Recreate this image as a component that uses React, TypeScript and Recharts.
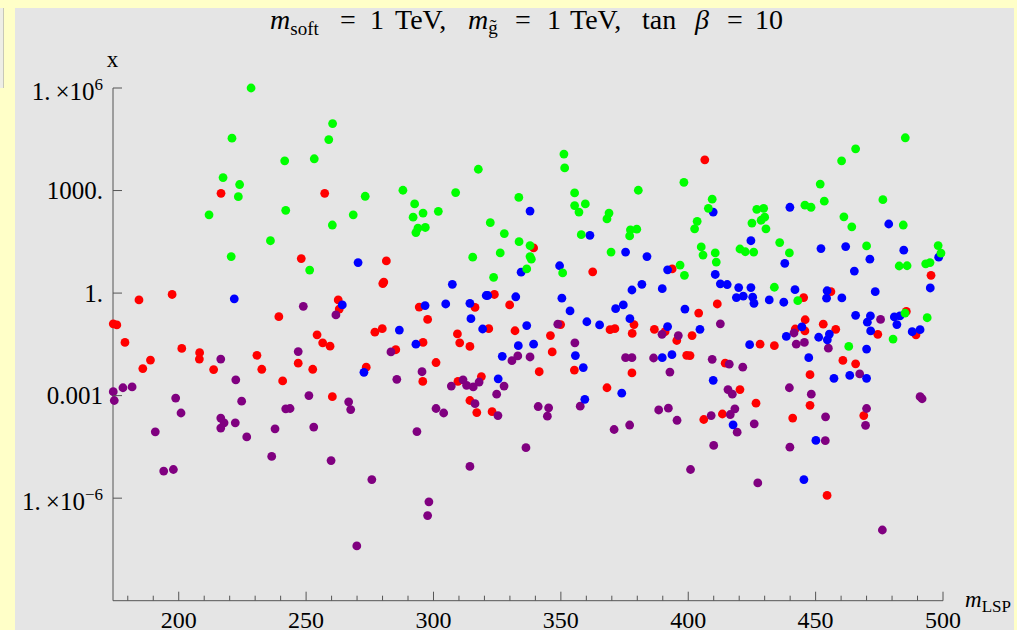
import React from 'react';
import { ScatterChart, Scatter, XAxis, YAxis } from 'recharts';

// [m_LSP, x] pairs
const greenPts: [number, number][] = [
  [228.4, 1.0e6], [220.9, 3.4e4], [260.4, 9.1e4], [258.9, 3.1e4], [241.6, 7.4e3], [253.2, 8.5e3], [217.4, 2.4e3],
  [223.9, 1.5e3], [223.4, 660], [211.9, 195], [242.0, 263], [260.3, 98], [236.0, 34], [220.6, 11.7], [251.4, 4.7],
  [273.2, 680], [288.0, 1020], [292.6, 407], [308.7, 870], [317.6, 4.2e3], [333.5, 630], [351.2, 1.17e4],
  [351.5, 4.6e3], [355.4, 850], [359.6, 407], [355.4, 363], [357.1, 234], [380.4, 1020], [268.5, 195], [292.0, 166],
  [295.9, 219], [301.9, 246], [293.9, 79], [293.1, 59], [296.8, 83], [322.3, 115], [327.8, 55], [333.6, 32],
  [337.9, 24.5], [326.2, 15], [315.4, 11.2], [337.9, 11.7], [338.4, 9.8], [336.6, 5.1], [323.6, 2.9], [350.7, 3.9],
  [368.9, 219], [368.1, 148], [358.0, 51], [377.3, 71], [379.8, 74], [377.0, 47], [369.7, 15.8],
  [398.3, 1740], [409.4, 560], [407.9, 302], [451.8, 1550], [460.2, 7.4e3], [465.7, 1.66e4], [485.2, 3.5e4],
  [453.4, 490], [476.4, 540], [445.8, 372], [448.2, 324], [426.9, 282], [429.6, 302], [403.5, 126], [402.5, 76],
  [425.0, 112], [428.6, 135], [430.0, 166], [430.5, 76], [461.1, 170], [464.2, 87], [484.4, 98], [435.9, 30],
  [439.7, 15], [470.0, 24], [498.1, 24.5], [499.2, 14.8], [405.1, 22.4], [405.8, 12.9], [410.6, 15], [411.0, 8.1],
  [420.3, 19.5], [422.4, 16.2], [425.7, 15.8], [482.8, 6.2], [485.9, 6.3], [493.2, 7.2], [494.9, 7.8], [396.8, 6.6],
  [398.5, 3.3], [433.8, 1.48], [443.0, 0.6], [485.1, 0.26], [493.8, 0.19], [480.4, 0.045], [463.0, 0.0275],
];

const redPts: [number, number][] = [
  [216.6, 830], [257.3, 830], [248.1, 10.2], [197.4, 0.91], [184.4, 0.63], [262.6, 0.63], [239.3, 0.204],
  [174.3, 0.126], [175.7, 0.117], [178.9, 0.036], [254.3, 0.06], [256.5, 0.035], [259.4, 0.028], [201.2, 0.024],
  [208.2, 0.018], [208.1, 0.0117], [230.7, 0.0151], [246.9, 0.0089], [188.9, 0.011], [185.9, 0.0062],
  [213.7, 0.0058], [232.6, 0.0059], [252.6, 0.0059], [240.8, 0.0027], [260.3, 0.00093],
  [281.5, 8.7], [280.5, 2.1], [280.1, 1.9], [323.9, 0.91], [339.3, 21], [362.5, 4.2], [263.0, 0.34], [294.4, 0.39],
  [316.3, 0.38], [329.9, 0.45], [297.7, 0.17], [378.7, 0.12], [378.0, 0.066], [277.0, 0.072], [279.9, 0.091],
  [321.7, 0.091], [332.0, 0.079], [349.9, 0.12], [369.3, 0.085], [371.2, 0.091], [386.7, 0.087], [390.9, 0.074],
  [345.9, 0.057], [295.9, 0.036], [309.4, 0.064], [310.3, 0.035], [314.3, 0.0275], [285.2, 0.022], [346.6, 0.019],
  [273.6, 0.0068], [301.0, 0.0093], [341.5, 0.005], [355.3, 0.0056], [377.9, 0.0046], [295.8, 0.0026],
  [309.6, 0.0026], [318.8, 0.0036], [368.1, 0.0017], [314.3, 0.00072], [317.0, 0.00032], [323.0, 0.00034],
  [406.5, 7.9e3], [495.3, 3.3], [393.7, 5.1], [445.3, 0.74], [456.0, 1.1], [485.6, 0.29], [474.4, 0.062],
  [489.4, 0.06], [411.4, 0.48], [404.1, 0.26], [395.5, 0.041], [401.5, 0.057], [445.9, 0.166], [442.0, 0.089],
  [445.8, 0.078], [453.0, 0.123], [457.9, 0.087], [428.2, 0.032], [433.8, 0.029], [399.4, 0.0151], [400.7, 0.0148],
  [414.5, 0.0089], [460.7, 0.0107], [465.7, 0.0085], [447.8, 0.0041], [420.3, 0.0015], [426.6, 0.0006],
  [447.8, 0.00052], [468.9, 0.00026], [406.1, 0.0002], [413.4, 0.00029], [441.0, 0.00022], [454.5, 1.2e-6],
];

const bluePts: [number, number][] = [
  [221.8, 0.68], [264.2, 0.45], [337.9, 250], [334.4, 4.1], [270.4, 7.8], [307.4, 1.8], [320.7, 0.85], [321.3, 0.85],
  [332.3, 0.78], [350.4, 0.71], [361.4, 49], [375.4, 15.8], [383.8, 11.7], [391.9, 4.8], [349.5, 6.3], [377.9, 1.23],
  [381.8, 1.8], [389.8, 1.35], [296.7, 0.43], [304.8, 0.48], [314.3, 0.5], [353.6, 0.3], [371.5, 0.35], [374.5, 0.45],
  [314.7, 0.178], [377.1, 0.178], [286.6, 0.083], [319.3, 0.089], [336.6, 0.112], [360.2, 0.145], [365.2, 0.117],
  [391.9, 0.105], [293.1, 0.032], [333.3, 0.029], [339.3, 0.032], [355.7, 0.0148], [327.0, 0.0141], [389.8, 0.0129],
  [272.7, 0.0048], [358.8, 0.0066], [325.4, 0.0031], [373.9, 0.00118], [359.4, 0.00078],
  [439.9, 324], [409.8, 234], [478.7, 105], [424.6, 34], [452.1, 20], [461.8, 23], [484.6, 18], [498.3, 11.2],
  [437.9, 7.4], [471.3, 9.8], [465.2, 4.4], [495.0, 1.41], [410.6, 3.5], [412.6, 1.86], [415.3, 1.78], [419.8, 1.45],
  [424.6, 1.45], [418.9, 0.74], [421.6, 0.81], [425.3, 0.76], [425.8, 0.5], [441.9, 1.26], [431.8, 0.63],
  [437.5, 0.54], [454.5, 1.17], [454.3, 0.71], [460.3, 0.72], [473.4, 1.1], [465.7, 0.224], [471.5, 0.214],
  [470.3, 0.141], [480.9, 0.2], [483.1, 0.214], [481.9, 0.12], [471.6, 0.078], [487.9, 0.074], [491.0, 0.085],
  [398.7, 0.34], [404.6, 0.087], [444.6, 0.102], [438.5, 0.054], [455.4, 0.063], [451.2, 0.051], [454.6, 0.043],
  [424.1, 0.031], [470.0, 0.023], [393.6, 0.0158], [447.3, 0.0129], [409.8, 0.0028], [457.2, 0.0032],
  [463.4, 0.0039], [470.0, 0.0032], [417.6, 0.00014], [450.1, 4.9e-5], [445.4, 3.5e-6],
];

const purplePts: [number, number][] = [
  [248.9, 0.41], [261.7, 0.23], [216.5, 0.0117], [246.9, 0.0195], [222.4, 0.0029], [178.1, 0.0017], [181.7, 0.0018],
  [174.3, 0.0013], [174.7, 0.00072], [198.8, 0.00085], [224.7, 0.00069], [251.1, 0.001], [200.9, 0.00031],
  [216.5, 0.00022], [242.0, 0.00041], [243.7, 0.00042], [217.8, 0.00016], [216.5, 0.000112], [222.2, 0.00016],
  [190.8, 8.7e-5], [226.7, 6.2e-5], [237.8, 0.000107], [253.0, 0.00012], [236.5, 1.66e-5], [259.8, 1.26e-5],
  [194.1, 6.2e-6], [197.9, 6.9e-6],
  [348.8, 0.123], [389.7, 0.062], [355.5, 0.035], [283.3, 0.019], [333.1, 0.0145], [330.8, 0.0105], [337.9, 0.0135],
  [375.4, 0.0129], [377.9, 0.0129], [386.4, 0.0126], [392.8, 0.0049], [285.6, 0.003], [295.5, 0.005], [307.0, 0.0019],
  [311.6, 0.0029], [313.0, 0.002], [315.6, 0.0018], [317.9, 0.0025], [327.7, 0.0019], [324.8, 0.0011],
  [266.7, 0.00066], [267.5, 0.00039], [316.3, 0.00058], [357.6, 0.00049], [301.0, 0.00042], [304.0, 0.00031],
  [325.3, 0.00026], [341.1, 0.00048], [345.2, 0.00044], [344.7, 0.00025], [388.4, 0.00038], [392.2, 0.00043],
  [293.5, 8.9e-5], [336.3, 3.0e-5], [314.3, 8.5e-6], [275.8, 3.5e-6], [298.2, 7.8e-7], [297.7, 3.1e-7],
  [269.9, 4.0e-8], [370.9, 0.000102], [377.0, 0.000138],
  [475.5, 0.17], [412.6, 0.126], [396.1, 0.057], [441.5, 0.068], [442.4, 0.032], [445.6, 0.036], [455.0, 0.0245],
  [409.4, 0.0115], [416.1, 0.0083], [421.4, 0.0068], [467.3, 0.0043], [415.6, 0.0015], [417.3, 0.0011],
  [439.7, 0.0017], [448.3, 0.0011], [491.0, 0.00093], [491.8, 0.00081], [470.0, 0.00042], [453.9, 0.00024],
  [409.0, 0.00026], [416.5, 0.00028], [418.3, 0.00041], [395.6, 0.00019], [425.9, 0.00015], [419.2, 8.5e-5],
  [410.0, 3.5e-5], [400.9, 6.9e-6], [469.6, 0.000135], [439.9, 3.1e-5], [453.8, 4.8e-5], [427.3, 2.8e-6],
  [476.2, 1.17e-7],
];

const xTicks = [180, 190, 200, 210, 220, 230, 240, 250, 260, 270, 280, 290, 300, 310, 320, 330, 340, 350,
  360, 370, 380, 390, 400, 410, 420, 430, 440, 450, 460, 470, 480, 490, 500];
const yTicks = [1e6, 1000, 1, 0.001, 1e-6];
const yTickBase = ['1.\u2009×10', '1000.', '1.', '0.001', '1.\u2009×10'];
const yTickSup = ['6', '', '', '', '−6'];

const FONT = '"Liberation Serif", "Times New Roman", serif';
const AXIS = '#555';

const toRows = (pts: [number, number][]) => pts.map(([x, y]) => ({ x, y }));

const dot = (color: string) => (p: any) => <circle cx={p.cx} cy={p.cy} r={4.4} fill={color} />;

const XTick = (props: any) => {
  const { x, y, payload } = props;
  const major = payload.value % 50 === 0;
  return (
    <g>
      <line x1={x} x2={x} y1={y} y2={y - (major ? 9 : 5)} stroke={AXIS} />
      {major && (
        <text x={x} y={y + 27} textAnchor="middle" fontFamily={FONT} fontSize={24} fill="#000">
          {payload.value}
        </text>
      )}
    </g>
  );
};

const YTick = (props: any) => {
  const { x, y, payload } = props;
  const i = yTicks.indexOf(payload.value);
  const sup = yTickSup[i];
  return (
    <g>
      <line x1={x} x2={x + 9} y1={y} y2={y} stroke={AXIS} />
      <text x={x - 10} y={y + (sup ? 12 : 8.5)} textAnchor="end" fontFamily={FONT} fontSize={25} fill="#000">
        {yTickBase[i]}
        {sup && (
          <tspan fontSize={17} dy={-10}>
            {sup}
          </tspan>
        )}
      </text>
    </g>
  );
};

export default function App() {
  return (
    <div style={{ position: 'absolute', left: 0, top: 0, width: 1017, height: 630, background: '#FFFFC8', overflow: 'hidden' }}>
      <div style={{ position: 'absolute', left: 0, top: 8, width: 3, height: 80, background: '#EEEEE6', borderRight: '1px solid #C8C8B8' }} />
      <div style={{ position: 'absolute', left: 15, top: 8, width: 999, height: 622, background: '#E5E5E5' }} />
      <div style={{ position: 'absolute', left: 0, top: 0 }}>
        <ScatterChart width={1017} height={630} margin={{ top: 88, right: 74, bottom: 0, left: 0 }}>
          <XAxis
            type="number"
            dataKey="x"
            domain={[174.2, 500]}
            ticks={xTicks}
            interval={0}
            height={29.3}
            tickSize={0}
            tickMargin={0}
            tickLine={false}
            axisLine={{ stroke: AXIS }}
            tick={XTick}
          />
          <YAxis
            type="number"
            dataKey="y"
            scale="log"
            domain={[1e-9, 1e6]}
            ticks={yTicks}
            interval={0}
            width={113}
            tickSize={0}
            tickMargin={0}
            tickLine={false}
            axisLine={{ stroke: AXIS }}
            tick={YTick}
          />
          <Scatter data={toRows(redPts)} shape={dot('#FF0000')} isAnimationActive={false} />
          <Scatter data={toRows(purplePts)} shape={dot('#800080')} isAnimationActive={false} />
          <Scatter data={toRows(bluePts)} shape={dot('#0000FF')} isAnimationActive={false} />
          <Scatter data={toRows(greenPts)} shape={dot('#00FF00')} isAnimationActive={false} />
        </ScatterChart>
      </div>
      <svg width={1017} height={630} style={{ position: 'absolute', left: 0, top: 0, pointerEvents: 'none' }}>
        <text y={29} fontFamily={FONT} fontSize={28} fill="#000">
          <tspan x={270} fontStyle="italic">m</tspan>
          <tspan fontSize={19} dy={6}>soft</tspan>
          <tspan x={340} dy={-6}>=</tspan>
          <tspan x={370}>1</tspan>
          <tspan x={395}>TeV,</tspan>
          <tspan x={468} fontStyle="italic">m</tspan>
          <tspan fontSize={19} dy={5}>g̃</tspan>
          <tspan x={515} dy={-5}>=</tspan>
          <tspan x={547}>1</tspan>
          <tspan x={570}>TeV,</tspan>
          <tspan x={642}>tan</tspan>
          <tspan x={695} fontStyle="italic">β</tspan>
          <tspan x={727}>=</tspan>
          <tspan x={755}>10</tspan>
        </text>
        <text x={112.5} y={67} textAnchor="middle" fontFamily={FONT} fontSize={23} fill="#000">x</text>
        <text x={965} y={607} fontFamily={FONT} fontSize={23} fill="#000">
          <tspan fontStyle="italic">m</tspan>
          <tspan fontSize={17} dy={5}>LSP</tspan>
        </text>
      </svg>
    </div>
  );
}
